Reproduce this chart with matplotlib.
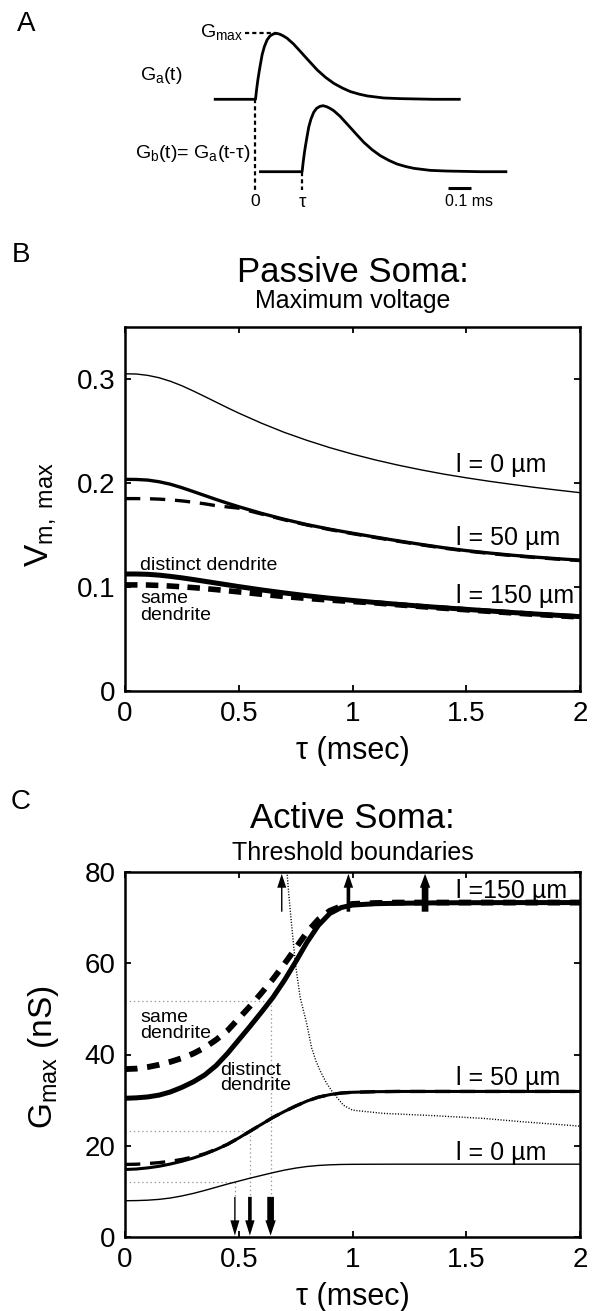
import matplotlib
matplotlib.use("Agg")
import matplotlib.pyplot as plt
from matplotlib.patches import FancyArrowPatch, ArrowStyle

plt.rcParams['font.family'] = ['Liberation Sans', 'DejaVu Sans']
plt.rcParams['mathtext.fontset'] = 'custom'
plt.rcParams['mathtext.rm'] = 'Liberation Sans'
plt.rcParams['mathtext.it'] = 'Liberation Sans:italic'
plt.rcParams['mathtext.bf'] = 'Liberation Sans:bold'
plt.rcParams['lines.scale_dashes'] = False
plt.rcParams['lines.solid_capstyle'] = 'butt'
plt.rcParams['lines.dash_capstyle'] = 'butt'
plt.rcParams['lines.solid_joinstyle'] = 'round'

TAU = '\u03c4'
MU = '\u00b5'

# ---------------------------------------------------------------- data
# A: normalised synaptic conductance waveform (time in ms after onset)
pulse_t = [0, 0.005, 0.01, 0.015, 0.022, 0.03, 0.04, 0.052, 0.065, 0.08,
           0.094, 0.11, 0.125, 0.142, 0.17, 0.202, 0.24, 0.277, 0.315,
           0.351, 0.39, 0.426, 0.465, 0.501, 0.575, 0.65, 0.8, 0.92]
pulse_g = [0, 0.15, 0.28, 0.39, 0.53, 0.68, 0.80, 0.90, 0.96, 0.99,
           1.0, 0.985, 0.96, 0.924, 0.84, 0.722, 0.58, 0.444, 0.33,
           0.242, 0.17, 0.116, 0.078, 0.051, 0.02, 0.01, 0.0, 0.0]
baseline_start_a = -0.187
baseline_start_b = 0.016
pulse_delay = 0.209

# B: passive soma, maximum somatic voltage vs. input delay tau
tau_b = [0, 0.05, 0.1, 0.15, 0.2, 0.25, 0.3, 0.35, 0.4, 0.45, 0.5, 0.6,
         0.7, 0.8, 0.9, 1.0, 1.1, 1.2, 1.3, 1.4, 1.5, 1.6, 1.7, 1.8, 1.9, 2.0]
vmax_l0 = [0.305, 0.3048, 0.3035, 0.3012, 0.2978, 0.2935, 0.2885, 0.2832,
           0.2778, 0.2724, 0.2672, 0.2575, 0.2487, 0.2410, 0.2340, 0.2278,
           0.2222, 0.2172, 0.2127, 0.2086, 0.2050, 0.2017, 0.1987, 0.1958,
           0.1932, 0.1907]
vmax_l50_distinct = [0.2035, 0.2034, 0.2028, 0.2012, 0.1988, 0.1955, 0.1918,
                     0.1880, 0.1842, 0.1806, 0.1772, 0.1708, 0.1651, 0.1600,
                     0.1556, 0.1517, 0.1480, 0.1444, 0.1410, 0.1378, 0.1350,
                     0.1327, 0.1306, 0.1288, 0.1272, 0.1258]
vmax_l50_same = [0.1850, 0.1850, 0.1849, 0.1845, 0.1838, 0.1828, 0.1815,
                 0.1800, 0.1782, 0.1770, 0.1758, 0.1702, 0.1646, 0.1596,
                 0.1552, 0.1513, 0.1476, 0.1440, 0.1406, 0.1374, 0.1346,
                 0.1323, 0.1302, 0.1284, 0.1268, 0.1254]
vmax_l150_distinct = [0.1125, 0.1125, 0.1122, 0.1114, 0.1102, 0.1088,
                      0.1072, 0.1055, 0.1038, 0.1021, 0.1004, 0.0972, 0.0943,
                      0.0916, 0.0892, 0.0871, 0.0851, 0.0833, 0.0816, 0.0800,
                      0.0785, 0.0770, 0.0755, 0.0741, 0.0728, 0.0715]
vmax_l150_same = [0.1020, 0.1020, 0.1019, 0.1015, 0.1009, 0.1002, 0.0994,
                  0.0985, 0.0975, 0.0964, 0.0953, 0.0930, 0.0908, 0.0890,
                  0.0874, 0.0860, 0.0847, 0.0829, 0.0812, 0.0796, 0.0781,
                  0.0766, 0.0751, 0.0737, 0.0724, 0.0711]

# C: active soma, threshold Gmax vs. tau
tau_c = [0, 0.05, 0.1, 0.15, 0.2, 0.25, 0.3, 0.35, 0.4, 0.45, 0.5, 0.55,
         0.6, 0.65, 0.7, 0.75, 0.8, 0.85, 0.9, 0.95, 1.0, 1.1, 1.2, 1.4,
         1.7, 2.0]
gth_l0 = [7.95, 7.98, 8.07, 8.25, 8.55, 9.0, 9.55, 10.2, 10.9, 11.6, 12.25,
          12.9, 13.5, 14.1, 14.65, 15.1, 15.45, 15.68, 15.82, 15.9, 15.93,
          15.95, 15.96, 15.96, 15.96, 15.96]
gth_l50_distinct = [14.8, 14.9, 15.15, 15.5, 16.0, 16.6, 17.3, 18.15, 19.15,
                    20.3, 21.7, 23.2, 24.7, 26.2, 27.5, 28.7, 29.8, 30.65,
                    31.2, 31.55, 31.72, 31.85, 31.9, 31.9, 31.9, 31.9]
gth_l50_same = [15.9, 15.95, 16.1, 16.3, 16.6, 17.0, 17.55, 18.25, 19.2,
                20.3, 21.7, 23.2, 24.7, 26.2, 27.5, 28.7, 29.8, 30.65,
                31.2, 31.55, 31.72, 31.85, 31.9, 31.9, 31.9, 31.9]
gth_l150_distinct = [30.4, 30.5, 30.7, 31.1, 31.8, 32.8, 34.0, 35.5, 37.55,
                     40.2, 43.2, 46.2, 49.3, 52.5, 56.2, 60.3, 64.6, 68.3,
                     70.9, 72.2, 72.75, 73.05, 73.15, 73.25, 73.3, 73.3]
gth_l150_same = [36.8, 36.9, 37.25, 37.75, 38.4, 39.2, 40.2, 41.5, 43.2,
                 45.2, 47.9, 50.6, 53.5, 56.5, 59.8, 63.3, 66.8, 69.6,
                 71.5, 72.5, 73.0, 73.2, 73.3, 73.3, 73.3, 73.3]

tau_c_boundary = [0.712, 0.72, 0.735, 0.75, 0.77, 0.80, 0.82, 0.84, 0.86,
                  0.886, 0.916, 0.96, 1.0, 1.135, 1.355, 1.575, 1.736, 2.0]
g_boundary = [80, 75, 67, 59.5, 52.5, 46.5, 41.5, 38.5, 36.2, 33.7, 31.5,
              28.9, 27.8, 27.1, 26.6, 26.0, 25.3, 24.3]

# critical delays (l = 0, 50, 150 um) and the threshold reached there
tau_crit = [0.483, 0.549, 0.640]
g_crit = [12.0, 23.2, 51.7]
# delays marked at the top for the three distances
tau_top = [0.689, 0.982, 1.319]

tick_x = [0, 0.5, 1, 1.5, 2]
tick_x_labels = ['0', '0.5', '1', '1.5', '2']
tick_b = [0, 0.1, 0.2, 0.3]
tick_b_labels = ['0', '0.1', '0.2', '0.3']
tick_c = [0, 20, 40, 60, 80]
tick_c_labels = ['0', '20', '40', '60', '80']

# ---------------------------------------------------------------- layout
W, H = 594, 1311
fig = plt.figure(figsize=(W / 100, H / 100), dpi=100)


def px_rect(left, top, right, bottom):
    return [left / W, 1 - bottom / H, (right - left) / W, (bottom - top) / H]


def fig_text(x, y, s, **kw):
    fig.text(x / W, 1 - y / H, s, **kw)


TICK_FS = 20
LABEL_FS = 22
CURVE_FS = 18
NOTE_FS = 14
A_FS = 14
TITLE_FS = 25
SUB_FS = 18

# ------------------------------------------------------------- panel A
axA = fig.add_axes(px_rect(0, 0, W, 225))
axA.set_xlim(-255.5 / 223, (W - 255.5) / 223)
axA.set_ylim(-(225 - 99.3) / 66, 99.3 / 66)
axA.axis('off')
GB_OFF = -1.097
lwA = 2.0
dashA = dict(color='k', lw=1.6, ls=(0, (3, 2.2)))
axA.plot([baseline_start_a] + pulse_t, [0] + pulse_g, color='k', lw=lwA)
axA.plot([baseline_start_b] + [t + pulse_delay for t in pulse_t],
         [GB_OFF] + [g + GB_OFF for g in pulse_g], color='k', lw=lwA)
peak_t = pulse_t[pulse_g.index(max(pulse_g))]
axA.plot([-0.047, peak_t], [1, 1], **dashA)
axA.plot([0, 0], [0, -1.377], **dashA)
axA.plot([pulse_delay, pulse_delay], [GB_OFF, -1.377], **dashA)
axA.plot([0.8646, 0.9649], [-1.348, -1.348], color='k', lw=2.2)
axA.text(0, -1.44, '0', ha='center', va='top', fontsize=12.5)
axA.text(pulse_delay, -1.44, TAU, ha='center', va='top', fontsize=13.5)
axA.text(0.85, -1.44, '0.1 ms', ha='left', va='top', fontsize=11.5)
axA.text(-0.2489, 0.944, r'G$_\mathregular{max}$', ha='left', va='baseline',
         fontsize=A_FS)
axA.text(-0.518, 0.292, r'G$_\mathregular{a}$(t)', ha='left', va='baseline',
         fontsize=A_FS)
axA.text(-0.0247, -0.889,
         r'G$_\mathregular{b}$(t)= G$_\mathregular{a}$(t-' + TAU + ')',
         ha='right', va='baseline', fontsize=A_FS)

fig_text(26, 24, 'A', ha='center', va='center', fontsize=20)
fig_text(21, 255, 'B', ha='center', va='center', fontsize=20)
fig_text(21, 802, 'C', ha='center', va='center', fontsize=20)


def style_axes(ax, yticks, ylabels, ylim):
    ax.set_xlim(0, 2)
    ax.set_ylim(*ylim)
    ax.set_xticks(tick_x)
    ax.set_xticklabels(tick_x_labels)
    ax.set_yticks(yticks)
    ax.set_yticklabels(ylabels)
    ax.tick_params(direction='in', top=True, right=True, length=4, width=1.3,
                   labelsize=TICK_FS, pad=7)
    for sp in ax.spines.values():
        sp.set_linewidth(1.8)


# ------------------------------------------------------------- panel B
axB = fig.add_axes(px_rect(125, 327, 580, 691))
style_axes(axB, tick_b, tick_b_labels, (0, 0.35))
axB.plot(tau_b, vmax_l150_same, color='k', lw=4.0, ls=(0, (9, 6)))
axB.plot(tau_b, vmax_l150_distinct, color='k', lw=3.6)
axB.plot(tau_b, vmax_l50_same, color='k', lw=2.4, ls=(0, (11, 7)))
axB.plot(tau_b, vmax_l50_distinct, color='k', lw=2.4)
axB.plot(tau_b, vmax_l0, color='k', lw=1.0)
axB.text(1.455, 0.2106, 'l = 0 ' + MU + 'm', fontsize=CURVE_FS,
         va='baseline')
axB.text(1.455, 0.140, 'l = 50 ' + MU + 'm', fontsize=CURVE_FS,
         va='baseline')
axB.text(1.455, 0.0846, 'l = 150 ' + MU + 'm', fontsize=CURVE_FS,
         va='baseline')
axB.text(0.066, 0.1163, 'distinct dendrite', fontsize=NOTE_FS, va='baseline')
axB.text(0.066, 0.0846, 'same', fontsize=NOTE_FS, va='baseline')
axB.text(0.066, 0.068, 'dendrite', fontsize=NOTE_FS, va='baseline')
axB.set_xlabel(TAU + ' (msec)', fontsize=LABEL_FS, va='center')
axB.xaxis.set_label_coords(0.5, -0.165)
axB.set_ylabel(r'V$_\mathregular{m,\ max}$', fontsize=LABEL_FS + 2,
               va='center')
axB.yaxis.set_label_coords(-0.185, 0.484)
fig_text(352.5, 282, 'Passive Soma:', ha='center', va='baseline',
         fontsize=TITLE_FS)
fig_text(352.5, 308, 'Maximum voltage', ha='center', va='baseline',
         fontsize=SUB_FS)

# ------------------------------------------------------------- panel C
axC = fig.add_axes(px_rect(125, 872, 580, 1237))
style_axes(axC, tick_c, tick_c_labels, (0, 80))

guide = dict(color='0.6', lw=0.9, ls=(0, (1, 2)))
ARROW_BASE = 8.8
for tc, gc in zip(tau_crit, g_crit):
    axC.plot([0, tc], [gc, gc], **guide)
    axC.plot([tc, tc], [gc, ARROW_BASE], **guide)

axC.plot(tau_c_boundary, g_boundary, color='k', lw=1.0, ls=(0, (0.8, 1.2)))
axC.plot(tau_c, gth_l150_same, color='k', lw=4.2, ls=(0, (9, 7)))
axC.plot(tau_c, gth_l150_distinct, color='k', lw=3.6)
axC.plot(tau_c, gth_l50_same, color='k', lw=2.4, ls=(0, (11, 7)))
axC.plot(tau_c, gth_l50_distinct, color='k', lw=2.2)
axC.plot(tau_c, gth_l0, color='k', lw=1.0)

shaft = [1.0, 2.6, 4.8]
head_w = [6.5, 6.8, 7.5]
for tc, tw, hw in zip(tau_crit, shaft, head_w):
    style = ArrowStyle.Simple(head_length=11, head_width=hw, tail_width=tw)
    axC.add_patch(FancyArrowPatch((tc, ARROW_BASE), (tc, 0.3),
                                  arrowstyle=style, mutation_scale=1,
                                  color='k', lw=0, shrinkA=0, shrinkB=0))
for tt, tw, hw in zip(tau_top, shaft, head_w):
    style = ArrowStyle.Simple(head_length=10, head_width=hw, tail_width=tw)
    axC.add_patch(FancyArrowPatch((tt, 71.3), (tt, 79.6),
                                  arrowstyle=style, mutation_scale=1,
                                  color='k', lw=0, shrinkA=0, shrinkB=0))

axC.text(1.455, 74.3, 'l =150 ' + MU + 'm', fontsize=CURVE_FS, va='baseline')
axC.text(1.455, 33.3, 'l = 50 ' + MU + 'm', fontsize=CURVE_FS, va='baseline')
axC.text(1.455, 16.9, 'l = 0 ' + MU + 'm', fontsize=CURVE_FS, va='baseline')
axC.text(0.066, 47.1, 'same', fontsize=NOTE_FS, va='baseline')
axC.text(0.066, 43.6, 'dendrite', fontsize=NOTE_FS, va='baseline')
axC.text(0.418, 35.5, 'distinct', fontsize=NOTE_FS, va='baseline')
axC.text(0.418, 32.2, 'dendrite', fontsize=NOTE_FS, va='baseline')
axC.set_xlabel(TAU + ' (msec)', fontsize=LABEL_FS, va='center')
axC.xaxis.set_label_coords(0.5, -0.164)
axC.set_ylabel(r'G$_\mathregular{max}$ (nS)', fontsize=LABEL_FS + 2,
               va='center')
axC.yaxis.set_label_coords(-0.179, 0.493)
fig_text(352.5, 828, 'Active Soma:', ha='center', va='baseline',
         fontsize=TITLE_FS)
fig_text(352.5, 860, 'Threshold boundaries', ha='center', va='baseline',
         fontsize=SUB_FS)

fig.savefig('out.png', dpi=100)
